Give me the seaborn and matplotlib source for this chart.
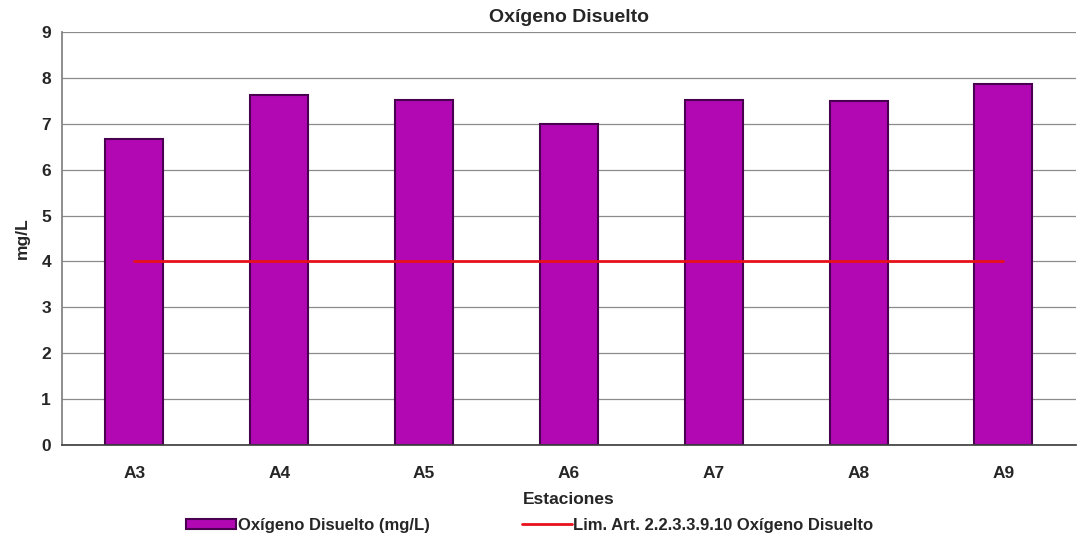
import matplotlib
matplotlib.use("Agg")
import matplotlib.pyplot as plt
import seaborn as sns
import pandas as pd

estaciones = ["A3", "A4", "A5", "A6", "A7", "A8", "A9"]
oxigeno = [6.67, 7.63, 7.52, 7.0, 7.52, 7.5, 7.87]
limite = [4, 4, 4, 4, 4, 4, 4]

sns.set_theme(style="white")
plt.rcParams['font.family'] = ['Liberation Sans', 'DejaVu Sans']

df = pd.DataFrame({"Estaciones": estaciones, "Oxigeno": oxigeno, "Limite": limite})

fig = plt.figure(figsize=(10.79, 5.39), dpi=100)
ax = fig.add_axes([0.0575, 0.1744, 0.9395, 0.7662])

sns.barplot(data=df, x="Estaciones", y="Oxigeno", ax=ax, width=0.4,
            color="#b208b4", saturation=1, edgecolor="#4a0050", linewidth=1.5,
            label="Oxígeno Disuelto (mg/L)", zorder=2)
sns.lineplot(data=df, x="Estaciones", y="Limite", ax=ax, color="#e8101a",
             linewidth=2, label="Lim. Art. 2.2.3.3.9.10 Oxígeno Disuelto", zorder=3)

ax.set_ylim(0, 9)
ax.set_xlim(-0.5, len(estaciones) - 0.5)
ax.set_yticks(range(0, 10))
ax.yaxis.grid(True, color="#8c8c8c", linewidth=0.9, zorder=0)
ax.set_axisbelow(True)
for s in ["top", "right"]:
    ax.spines[s].set_visible(False)
ax.spines["left"].set_color("#808080")
ax.spines["bottom"].set_color("#404040")
ax.tick_params(axis="x", labelsize=12.5, length=0, pad=15)
ax.tick_params(axis="y", labelsize=12.5, length=0, pad=8)
for lab in ax.get_xticklabels() + ax.get_yticklabels():
    lab.set_fontweight("bold")
ax.set_title("Oxígeno Disuelto", fontsize=14, fontweight="bold", pad=7)
ax.set_xlabel("Estaciones", fontsize=12.5, fontweight="bold", labelpad=8)
ax.set_ylabel("mg/L", fontsize=12.5, fontweight="bold", labelpad=8)

handles, labels = ax.get_legend_handles_labels()
order = [labels.index("Oxígeno Disuelto (mg/L)"),
         labels.index("Lim. Art. 2.2.3.3.9.10 Oxígeno Disuelto")]
leg = ax.legend([handles[i] for i in order], [labels[i] for i in order],
                loc="upper center", bbox_to_anchor=(0.4615, -0.14), ncol=2,
                frameon=False, fontsize=12, handlelength=3.0, handleheight=0.6,
                handletextpad=0.1, columnspacing=5.5)
for t in leg.get_texts():
    t.set_fontweight("bold")

fig.savefig("out.png", dpi=100)
